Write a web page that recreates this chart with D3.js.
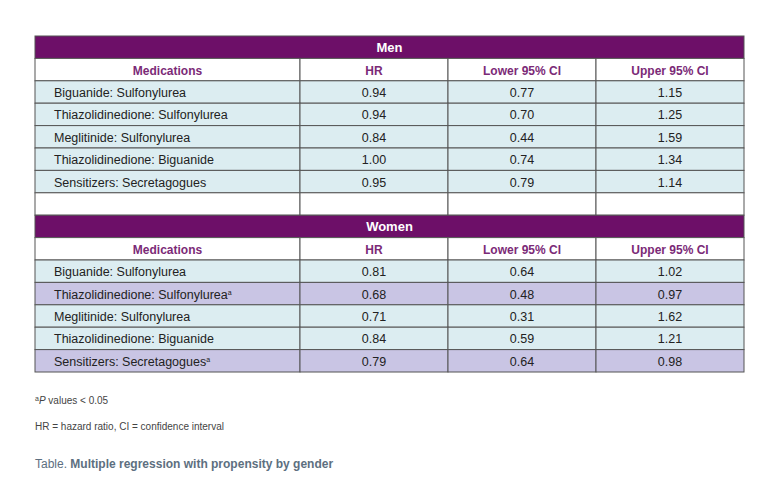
<!DOCTYPE html><html><head><meta charset="utf-8"><script src="https://cdn.jsdelivr.net/npm/d3@7"></script>
<style>body{margin:0;background:#fff}</style></head><body><svg id="c" width="780" height="504"></svg><script>
const columns=["Medications","HR","Lower 95% CI","Upper 95% CI"];
const medications=["Biguanide: Sulfonylurea","Thiazolidinedione: Sulfonylurea","Meglitinide: Sulfonylurea","Thiazolidinedione: Biguanide","Sensitizers: Secretagogues"];
const menHR=[0.94,0.94,0.84,1.00,0.95];
const menLower=[0.77,0.70,0.44,0.74,0.79];
const menUpper=[1.15,1.25,1.59,1.34,1.14];
const womenHR=[0.81,0.68,0.71,0.84,0.79];
const womenLower=[0.64,0.48,0.31,0.59,0.64];
const womenUpper=[1.02,0.97,1.62,1.21,0.98];
const womenSig=[false,true,false,false,true];

const svg=d3.select("#c");
const font="Liberation Sans, Arial, sans-serif";
const x=d3.scaleLinear().domain([0,4]).range([35,744]);
const colEdges=[35,300,448,596,744];
const rowH=22.4;
const y=d3.scaleLinear().domain([0,15]).range([36,36+15*rowH]);
const border="#555";
function section(title,r0,hr,lo,up,sig){
  svg.append("rect").attr("x",35).attr("y",y(r0)).attr("width",709).attr("height",rowH).attr("fill","#6d0f68").attr("stroke",border);
  svg.append("text").attr("x",(35+744)/2).attr("y",y(r0)+rowH/2+5).attr("text-anchor","middle").attr("fill","#fff").attr("font-weight","bold").attr("font-size",13).attr("font-family",font).text(title);
  columns.forEach((c,i)=>{
    svg.append("rect").attr("x",colEdges[i]).attr("y",y(r0+1)).attr("width",colEdges[i+1]-colEdges[i]).attr("height",rowH).attr("fill","#fff").attr("stroke",border);
    svg.append("text").attr("x",(colEdges[i]+colEdges[i+1])/2).attr("y",y(r0+1)+rowH/2+5).attr("text-anchor","middle").attr("fill","#7b2a77").attr("font-weight","bold").attr("font-size",12).attr("font-family",font).text(c);
  });
  medications.forEach((m,j)=>{
    const vals=[m,hr[j].toFixed(2),lo[j].toFixed(2),up[j].toFixed(2)];
    const fill=sig&&sig[j]?"#c9c5e4":"#dcedf1";
    vals.forEach((v,i)=>{
      const yy=y(r0+2+j);
      svg.append("rect").attr("x",colEdges[i]).attr("y",yy).attr("width",colEdges[i+1]-colEdges[i]).attr("height",rowH).attr("fill",fill).attr("stroke",border);
      const t=svg.append("text").attr("y",yy+rowH/2+5).attr("fill","#222").attr("font-size",12.5).attr("font-family",font);
      if(i===0){t.attr("x",54).text(v); if(sig&&sig[j]) t.append("tspan").attr("font-size",7).attr("dy",-4).text("a");}
      else t.attr("x",(colEdges[i]+colEdges[i+1])/2).attr("text-anchor","middle").text(v);
    });
  });
}
section("Men",0,menHR,menLower,menUpper,null);
colEdges.slice(0,4).forEach((e,i)=>svg.append("rect").attr("x",e).attr("y",y(7)).attr("width",colEdges[i+1]-e).attr("height",rowH).attr("fill","#fff").attr("stroke",border));
section("Women",8,womenHR,womenLower,womenUpper,womenSig);
const f=svg.append("text").attr("x",35).attr("y",404).attr("font-size",10).attr("fill","#444").attr("font-family",font);
f.append("tspan").attr("font-size",7).attr("dy",-3).text("a");
f.append("tspan").attr("font-style","italic").attr("dy",3).text("P");
f.append("tspan").text(" values < 0.05");
svg.append("text").attr("x",35).attr("y",430).attr("font-size",10).attr("fill","#444").attr("font-family",font).text("HR = hazard ratio, CI = confidence interval");
const c=svg.append("text").attr("x",35).attr("y",468).attr("font-size",12).attr("fill","#5d6f80").attr("font-family",font);
c.append("tspan").text("Table. ");
c.append("tspan").attr("font-weight","bold").text("Multiple regression with propensity by gender");
</script></body></html>
